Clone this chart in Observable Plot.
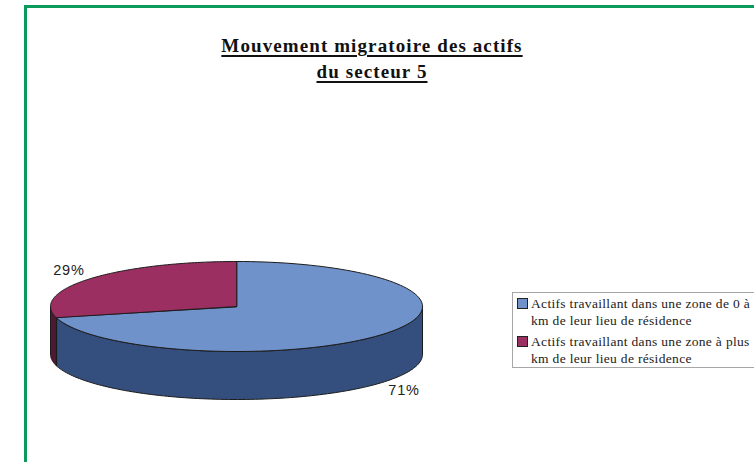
<!DOCTYPE html>
<html><head><meta charset="utf-8">
<script src="https://cdn.jsdelivr.net/npm/d3@7"></script>
<script src="https://cdn.jsdelivr.net/npm/@observablehq/plot@0.6"></script>
<style>
html,body{margin:0;padding:0;background:#fff;width:754px;height:462px;overflow:hidden}
#wrap{position:relative;width:754px;height:462px;overflow:hidden}
#frame{position:absolute;left:24px;top:5px;width:760px;height:480px;border:3px solid #0b9a5c;box-sizing:border-box}
#title{position:absolute;left:122px;width:500px;top:33px;text-align:center;font:bold 19px/26px "Liberation Serif",serif;letter-spacing:1.1px;color:#111;text-decoration:underline;text-underline-offset:3px;text-decoration-thickness:2px}
#legend{position:absolute;left:512px;top:292px;width:260px;height:76px;border:1px solid #a6a6a6;box-sizing:border-box;font:13.5px/17px "Liberation Serif",serif;letter-spacing:.32px;color:#222;background:#fff}
#legend .row{position:absolute;left:18px;white-space:nowrap}
#legend .sw{position:absolute;left:4px;width:9px;height:9px;border:1px solid #222}
svg{position:absolute;left:0;top:0}
</style></head><body>
<div id="wrap"><div id="frame"></div><div id="title"></div><div id="plot"></div><div id="legend"></div></div>
<script>
const titleLines = ["Mouvement migratoire des actifs", "du secteur 5"];
const categories = ["Actifs travaillant dans une zone de 0 à\nkm de leur lieu de résidence",
                    "Actifs travaillant dans une zone à plus\nkm de leur lieu de résidence"];
const shares = [71, 29];
const labels = ["71%", "29%"];
const topColors = ["#7092cb", "#9c2f62"];
const sideColors = ["#344f7e", "#4e1a33"];

const depth = 48 / 45;           // pie thickness, in vertical radii
const tau = 2 * Math.PI;
const total = d3.sum(shares);
const px = a => Math.sin(a), py = a => Math.cos(a);
const samples = (a0, a1) => d3.range(0, 121).map(i => a0 + (a1 - a0) * i / 120);

// slices run clockwise from 12 o'clock
let acc = 0;
const slices = shares.map((v, i) => {
  const a0 = acc / total * tau; acc += v; const a1 = acc / total * tau;
  return {i, a0, a1, mid: (a0 + a1) / 2};
});

const sidePts = [], topPts = [];
slices.forEach(s => {
  // visible front wall: the part of the arc in the lower half of the ellipse
  const lo = Math.max(s.a0, tau / 4), hi = Math.min(s.a1, tau * 3 / 4);
  if (hi > lo) {
    const arc = samples(lo, hi);
    arc.forEach(a => sidePts.push({x: px(a), y: py(a), s: s.i}));
    arc.slice().reverse().forEach(a => sidePts.push({x: px(a), y: py(a) - depth, s: s.i}));
  }
  topPts.push({x: 0, y: 0, s: s.i});
  samples(s.a0, s.a1).forEach(a => topPts.push({x: px(a), y: py(a), s: s.i}));
});
const edgePts = [tau / 4, tau * 3 / 4, slices[0].a1].flatMap((a, k) => [
  {x: px(a), y: py(a), k}, {x: px(a), y: py(a) - depth, k}]);
const labelData = slices.map(s => ({
  x: 1.14 * px(s.mid),
  y: 1.3 * py(s.mid) - (py(s.mid) < 0 ? depth : 0),
  t: labels[s.i]}));

const chart = Plot.plot({
  width: 754, height: 462, margin: 0, axis: null,
  x: {type: "linear", domain: [-1, 1], range: [51, 423]},
  y: {type: "linear", domain: [1, -1], range: [261, 351]},
  marks: [
    Plot.line(sidePts, {x: "x", y: "y", z: "s", curve: "linear-closed", fill: d => sideColors[d.s], stroke: "#1c1c1c", strokeWidth: 1}),
    Plot.line(edgePts, {x: "x", y: "y", z: "k", stroke: "#1c1c1c", strokeWidth: 1}),
    Plot.line(topPts, {x: "x", y: "y", z: "s", curve: "linear-closed", fill: d => topColors[d.s], stroke: "#1c1c1c", strokeWidth: 1}),
    Plot.text(labelData, {x: "x", y: "y", text: "t", fontFamily: "Liberation Sans, sans-serif", fontSize: 14.5, fill: "#222", style: {letterSpacing: "0.8px"}})
  ],
  style: {letterSpacing: "0.8px"}
});
chart.style.left = "-1px";
document.getElementById("plot").append(chart);

document.getElementById("title").innerHTML = titleLines.join("<br>");
const legend = document.getElementById("legend");
categories.forEach((c, i) => {
  const t = 2 + i * 38;
  const r = document.createElement("div");
  r.className = "row"; r.style.top = t + "px"; r.innerHTML = c.replace("\n", "<br>");
  const s = document.createElement("div");
  s.className = "sw"; s.style.top = (t + 3) + "px"; s.style.background = topColors[i];
  legend.append(s, r);
});
</script></body></html>
